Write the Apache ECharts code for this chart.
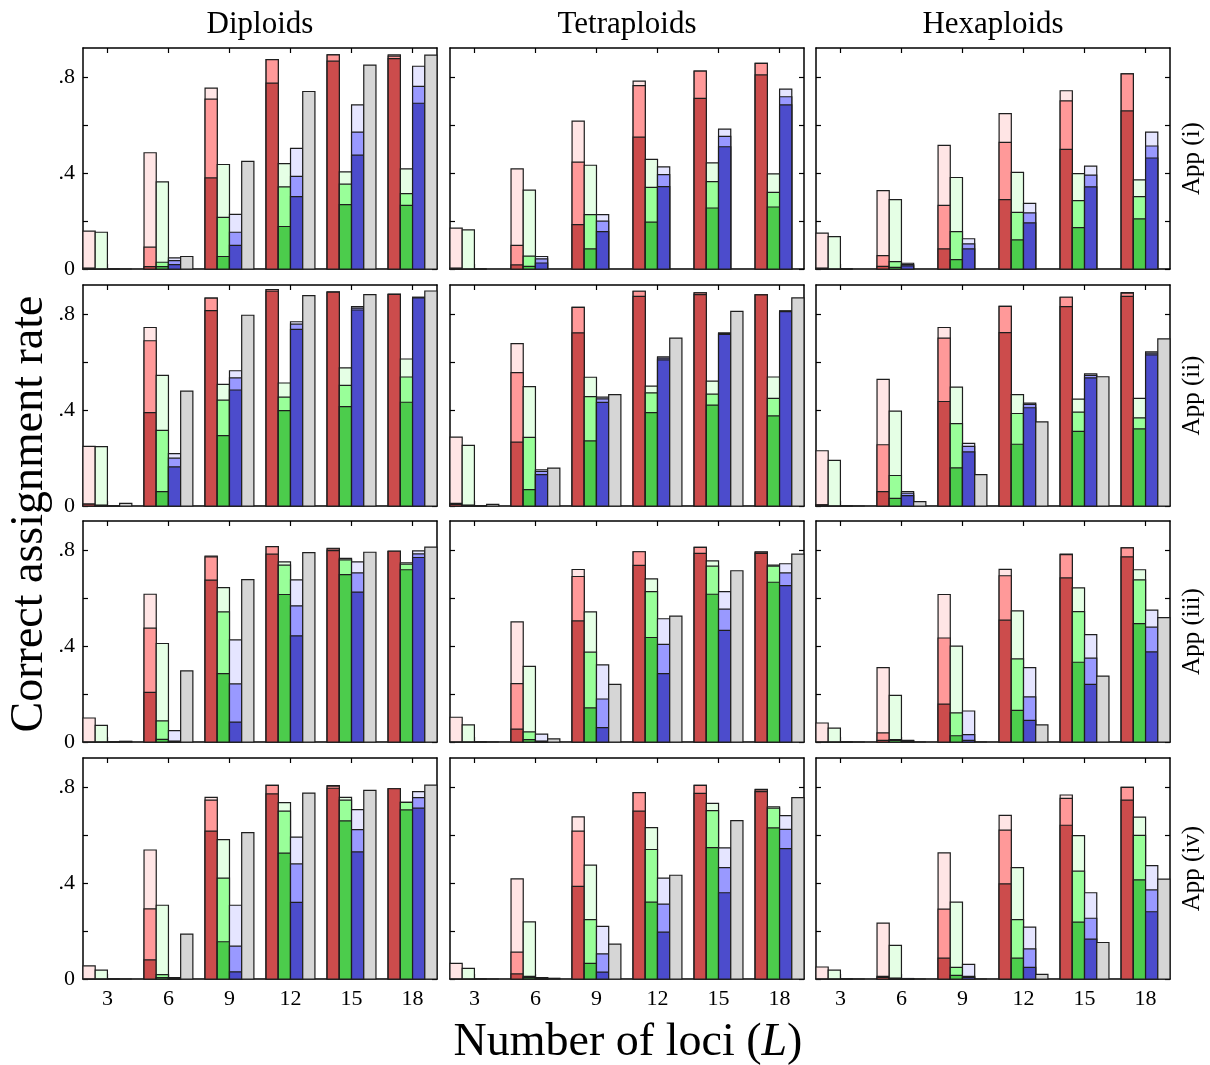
<!DOCTYPE html>
<html>
<head>
<meta charset="utf-8">
<script src="https://cdn.jsdelivr.net/npm/echarts@6/dist/echarts.min.js"></script>
<style>
html,body{margin:0;padding:0;background:#fff;}
#chart{width:1210px;height:1065px;}
</style>
</head>
<body>
<div id="chart"></div>
<script>
// ---------------- DATA ----------------
const loci = [3, 6, 9, 12, 15, 18];
const ploidies = ['Diploids', 'Tetraploids', 'Hexaploids'];
const approaches = ['App (i)', 'App (ii)', 'App (iii)', 'App (iv)'];
const yTickLabels = { 0: '0', 0.4: '.4', 0.8: '.8' };
// each colour bar: [light (top), medium, dark (bottom)] per L
// App (i)
const i_dip_red   = [[0.158,0.003,0.003],[0.484,0.091,0.010],[0.753,0.707,0.379],[0.872,0.872,0.774],[0.891,0.891,0.865],[0.891,0.886,0.876]];
const i_dip_green = [[0.153,0,0],[0.363,0.028,0.010],[0.435,0.215,0.052],[0.439,0.342,0.177],[0.404,0.353,0.268],[0.417,0.314,0.265]];
const i_dip_blue  = [[0,0,0],[0.046,0.035,0.018],[0.227,0.153,0.098],[0.502,0.386,0.301],[0.683,0.570,0.474],[0.844,0.760,0.690]];
const i_dip_gray  = [0,0.052,0.448,0.739,0.849,0.890];
const i_tet_red   = [[0.170,0.003,0.003],[0.417,0.098,0.017],[0.616,0.445,0.185],[0.782,0.763,0.549],[0.824,0.824,0.710],[0.856,0.856,0.808]];
const i_tet_green = [[0.163,0,0],[0.328,0.054,0.011],[0.432,0.226,0.084],[0.456,0.340,0.195],[0.442,0.364,0.254],[0.396,0.319,0.258]];
const i_tet_blue  = [[0,0,0],[0.052,0.042,0.025],[0.226,0.199,0.156],[0.425,0.393,0.343],[0.582,0.552,0.509],[0.749,0.717,0.683]];
const i_tet_gray  = null;
const i_hex_red   = [[0.149,0.003,0.003],[0.326,0.056,0.011],[0.515,0.265,0.084],[0.647,0.527,0.289],[0.742,0.700,0.498],[0.812,0.812,0.658]];
const i_hex_green = [[0.135,0,0],[0.289,0.031,0.007],[0.381,0.156,0.039],[0.402,0.236,0.121],[0.397,0.285,0.172],[0.371,0.301,0.209]];
const i_hex_blue  = [[0,0,0],[0.024,0.018,0.013],[0.126,0.105,0.084],[0.273,0.234,0.192],[0.428,0.391,0.342],[0.570,0.512,0.462]];
const i_hex_gray  = null;
// App (ii)
const ii_dip_red   = [[0.248,0.008,0.008],[0.743,0.688,0.389],[0.865,0.865,0.813],[0.901,0.901,0.894],[0.890,0.890,0.890],[0.881,0.881,0.881]];
const ii_dip_green = [[0.247,0.003,0.003],[0.544,0.315,0.060],[0.506,0.441,0.293],[0.512,0.453,0.397],[0.575,0.502,0.414],[0.612,0.537,0.432]];
const ii_dip_blue  = [[0,0,0],[0.218,0.199,0.163],[0.563,0.533,0.483],[0.767,0.757,0.735],[0.830,0.824,0.816],[0.869,0.869,0.866]];
const ii_dip_gray  = [0.011,0.478,0.794,0.876,0.880,0.895];
const ii_tet_red   = [[0.287,0.011,0.007],[0.676,0.555,0.266],[0.827,0.827,0.721],[0.894,0.894,0.873],[0.887,0.887,0.880],[0.879,0.879,0.879]];
const ii_tet_green = [[0.252,0.003,0.003],[0.497,0.286,0.068],[0.536,0.455,0.271],[0.499,0.471,0.389],[0.520,0.466,0.420],[0.537,0.448,0.375]];
const ii_tet_blue  = [[0,0,0],[0.151,0.144,0.131],[0.453,0.446,0.431],[0.621,0.616,0.608],[0.721,0.718,0.714],[0.812,0.811,0.809]];
const ii_tet_gray  = [0.007,0.158,0.464,0.699,0.810,0.866];
const ii_hex_red   = [[0.230,0.005,0.005],[0.527,0.255,0.060],[0.743,0.699,0.435],[0.831,0.831,0.722],[0.869,0.869,0.830],[0.888,0.886,0.873]];
const ii_hex_green = [[0.190,0,0],[0.395,0.127,0.032],[0.495,0.343,0.159],[0.464,0.385,0.257],[0.445,0.391,0.311],[0.448,0.367,0.321]];
const ii_hex_blue  = [[0,0,0],[0.060,0.053,0.043],[0.261,0.248,0.225],[0.428,0.423,0.409],[0.550,0.544,0.533],[0.642,0.636,0.629]];
const ii_hex_gray  = [0,0.018,0.131,0.350,0.538,0.696];
// App (iii)
const iii_dip_red   = [[0.100,0,0],[0.615,0.474,0.207],[0.774,0.771,0.674],[0.813,0.813,0.782],[0.806,0.804,0.797],[0.794,0.794,0.794]];
const iii_dip_green = [[0.069,0,0],[0.410,0.088,0.011],[0.643,0.542,0.285],[0.750,0.736,0.614],[0.764,0.758,0.697],[0.746,0.740,0.717]];
const iii_dip_blue  = [[0,0,0],[0.047,0.003,0.003],[0.425,0.242,0.083],[0.675,0.567,0.442],[0.750,0.704,0.624],[0.796,0.783,0.768]];
const iii_dip_gray  = [0.003,0.296,0.676,0.788,0.790,0.811];
const iii_tet_red   = [[0.103,0,0],[0.500,0.243,0.054],[0.718,0.689,0.504],[0.792,0.792,0.735],[0.810,0.810,0.785],[0.792,0.790,0.785]];
const iii_tet_green = [[0.071,0,0],[0.315,0.042,0.010],[0.542,0.374,0.142],[0.679,0.626,0.435],[0.754,0.732,0.615],[0.736,0.732,0.665]];
const iii_tet_blue  = [[0,0,0],[0.033,0.003,0.003],[0.321,0.179,0.060],[0.513,0.406,0.285],[0.626,0.553,0.465],[0.742,0.704,0.651]];
const iii_tet_gray  = [0,0.013,0.240,0.524,0.713,0.782];
const iii_hex_red   = [[0.079,0,0],[0.310,0.038,0.007],[0.614,0.433,0.158],[0.719,0.692,0.507],[0.782,0.780,0.683],[0.808,0.808,0.771]];
const iii_hex_green = [[0.058,0,0],[0.194,0.010,0.007],[0.399,0.121,0.026],[0.546,0.346,0.132],[0.642,0.543,0.332],[0.717,0.675,0.493]];
const iii_hex_blue  = [[0,0,0],[0.007,0.005,0.004],[0.129,0.031,0.007],[0.310,0.188,0.090],[0.447,0.349,0.240],[0.549,0.478,0.375]];
const iii_hex_gray  = [0,0,0,0.071,0.274,0.518];
// App (iv)
const iv_dip_red   = [[0.055,0,0],[0.537,0.292,0.080],[0.756,0.745,0.616],[0.806,0.806,0.771],[0.805,0.803,0.794],[0.792,0.792,0.792]];
const iv_dip_green = [[0.037,0,0],[0.307,0.018,0.006],[0.580,0.420,0.155],[0.734,0.699,0.524],[0.756,0.745,0.658],[0.735,0.735,0.704]];
const iv_dip_blue  = [[0,0,0],[0.006,0.004,0.003],[0.307,0.137,0.030],[0.591,0.479,0.319],[0.705,0.622,0.529],[0.780,0.755,0.711]];
const iv_dip_gray  = [0,0.187,0.609,0.774,0.785,0.807];
const iv_tet_red   = [[0.065,0,0],[0.417,0.112,0.021],[0.675,0.616,0.386],[0.776,0.776,0.699],[0.806,0.806,0.773],[0.789,0.787,0.780]];
const iv_tet_green = [[0.044,0,0],[0.238,0.011,0.006],[0.474,0.247,0.065],[0.630,0.539,0.320],[0.731,0.701,0.547],[0.717,0.711,0.629]];
const iv_tet_blue  = [[0,0,0],[0.006,0.004,0.003],[0.219,0.105,0.029],[0.420,0.312,0.195],[0.546,0.464,0.359],[0.680,0.623,0.543]];
const iv_tet_gray  = [0,0.003,0.145,0.432,0.659,0.755];
const iv_hex_red   = [[0.050,0,0],[0.233,0.011,0.007],[0.525,0.291,0.087],[0.681,0.620,0.396],[0.766,0.752,0.640],[0.798,0.798,0.745]];
const iv_hex_green = [[0.037,0,0],[0.140,0.003,0.003],[0.320,0.048,0.015],[0.464,0.247,0.087],[0.597,0.449,0.237],[0.674,0.598,0.413]];
const iv_hex_blue  = [[0,0,0],[0.002,0.001,0.001],[0.061,0.011,0.007],[0.216,0.125,0.048],[0.359,0.253,0.166],[0.472,0.371,0.280]];
const iv_hex_gray  = [0,0,0,0.019,0.152,0.416];

const panelData = [
  [[i_dip_red,i_dip_green,i_dip_blue,i_dip_gray],[i_tet_red,i_tet_green,i_tet_blue,i_tet_gray],[i_hex_red,i_hex_green,i_hex_blue,i_hex_gray]],
  [[ii_dip_red,ii_dip_green,ii_dip_blue,ii_dip_gray],[ii_tet_red,ii_tet_green,ii_tet_blue,ii_tet_gray],[ii_hex_red,ii_hex_green,ii_hex_blue,ii_hex_gray]],
  [[iii_dip_red,iii_dip_green,iii_dip_blue,iii_dip_gray],[iii_tet_red,iii_tet_green,iii_tet_blue,iii_tet_gray],[iii_hex_red,iii_hex_green,iii_hex_blue,iii_hex_gray]],
  [[iv_dip_red,iv_dip_green,iv_dip_blue,iv_dip_gray],[iv_tet_red,iv_tet_green,iv_tet_blue,iv_tet_gray],[iv_hex_red,iv_hex_green,iv_hex_blue,iv_hex_gray]]
];

// ---------------- STYLE ----------------
const FONT = 'Liberation Serif';
const palettes = [
  ['#ffe5e5', '#ff9999', '#cc4c4c'],
  ['#e5ffe5', '#99ff99', '#4ccc4c'],
  ['#e5e5ff', '#9999ff', '#4c4ccc'],
  ['#d6d6d6']
];
const BAR = 0.6; // bar width in units of L
const lefts = [83, 450, 816];
const tops = [48, 285, 521, 758];
const W = 354, H = 221;

function renderItem(params, api) {
  const L = api.value(0), k = api.value(1);
  const xc = L + (k - 1.5) * BAR;
  const cols = palettes[k];
  const children = [];
  for (let j = 0; j < cols.length; j++) {
    const v = api.value(2 + j);
    if (v == null || isNaN(v)) continue;
    const p0 = api.coord([xc - BAR / 2, 0]);
    const p1 = api.coord([xc + BAR / 2, v]);
    children.push({
      type: 'rect',
      shape: { x: p0[0], y: p1[1], width: p1[0] - p0[0], height: p0[1] - p1[1] },
      style: { fill: cols[j], stroke: '#1e1e1e', lineWidth: 1.2 }
    });
  }
  return { type: 'group', children };
}

const grid = [], xAxis = [], yAxis = [], series = [], graphic = [];
for (let r = 0; r < 4; r++) {
  for (let c = 0; c < 3; c++) {
    const g = grid.length;
    grid.push({ left: lefts[c], top: tops[r], width: W, height: H, containLabel: false });
    const axLine = { show: true, onZero: false, lineStyle: { color: '#000', width: 1.5 } };
    const xBase = {
      type: 'value', gridIndex: g, min: 1.8, max: 19.2,
      splitLine: { show: false }, axisLine: axLine,
      axisTick: { show: true, inside: true, length: 5, customValues: loci, lineStyle: { color: '#000', width: 1.2 } }
    };
    xAxis.push(Object.assign({}, xBase, {
      position: 'bottom',
      axisLabel: { show: r === 3, customValues: loci, fontFamily: FONT, fontSize: 22, color: '#000', margin: 9 }
    }));
    xAxis.push(Object.assign({}, xBase, { position: 'top', axisLabel: { show: false } }));
    const yBase = {
      type: 'value', gridIndex: g, min: 0, max: 0.92, interval: 0.2,
      splitLine: { show: false }, axisLine: axLine,
      axisTick: { show: true, inside: true, length: 5, customValues: [0, 0.2, 0.4, 0.6, 0.8], lineStyle: { color: '#000', width: 1.2 } }
    };
    yAxis.push(Object.assign({}, yBase, {
      position: 'left',
      axisLabel: {
        show: c === 0, customValues: [0, 0.4, 0.8], fontFamily: FONT, fontSize: 22, color: '#000', margin: 8,
        formatter: v => { for (const key in yTickLabels) { if (Math.abs(v - Number(key)) < 1e-6) return yTickLabels[key]; } return ''; }
      }
    }));
    yAxis.push(Object.assign({}, yBase, { position: 'right', axisLabel: { show: false } }));

    const data = [];
    const pd = panelData[r][c];
    for (let k = 0; k < 4; k++) {
      const arr = pd[k];
      if (!arr) continue;
      for (let i = 0; i < loci.length; i++) {
        const v = arr[i];
        if (k < 3) data.push([loci[i], k, v[0], v[1], v[2]]);
        else data.push([loci[i], k, v]);
      }
    }
    series.push({
      type: 'custom', xAxisIndex: 2 * g, yAxisIndex: 2 * g,
      renderItem, data, clip: false, silent: true,
      encode: { x: 0, y: 2 }
    });
  }
}

ploidies.forEach((t, c) => {
  graphic.push({ type: 'text', x: lefts[c] + W / 2, y: 25,
    style: { text: t, fontFamily: FONT, fontSize: 31, fill: '#000', textAlign: 'center', textVerticalAlign: 'middle' } });
});
approaches.forEach((t, r) => {
  graphic.push({ type: 'text', x: 1192, y: tops[r] + H / 2, rotation: Math.PI / 2,
    style: { text: t, fontFamily: FONT, fontSize: 25, fill: '#000', textAlign: 'center', textVerticalAlign: 'middle' } });
});
graphic.push({ type: 'text', x: 30, y: 514, rotation: Math.PI / 2,
  style: { text: 'Correct assignment rate', fontFamily: FONT, fontSize: 46, fill: '#000', textAlign: 'center', textVerticalAlign: 'middle' } });
graphic.push({ type: 'text', x: 628, y: 1043,
  style: {
    text: '{n|Number of loci (}{i|L}{n|)}',
    rich: { n: { fontFamily: FONT, fontSize: 46, fill: '#000' }, i: { fontFamily: FONT, fontSize: 46, fontStyle: 'italic', fill: '#000' } },
    textAlign: 'center', textVerticalAlign: 'middle'
  } });

const chart = echarts.init(document.getElementById('chart'), null, { renderer: 'canvas' });
chart.setOption({ animation: false, backgroundColor: '#fff', grid, xAxis, yAxis, series, graphic });
</script>
</body>
</html>
